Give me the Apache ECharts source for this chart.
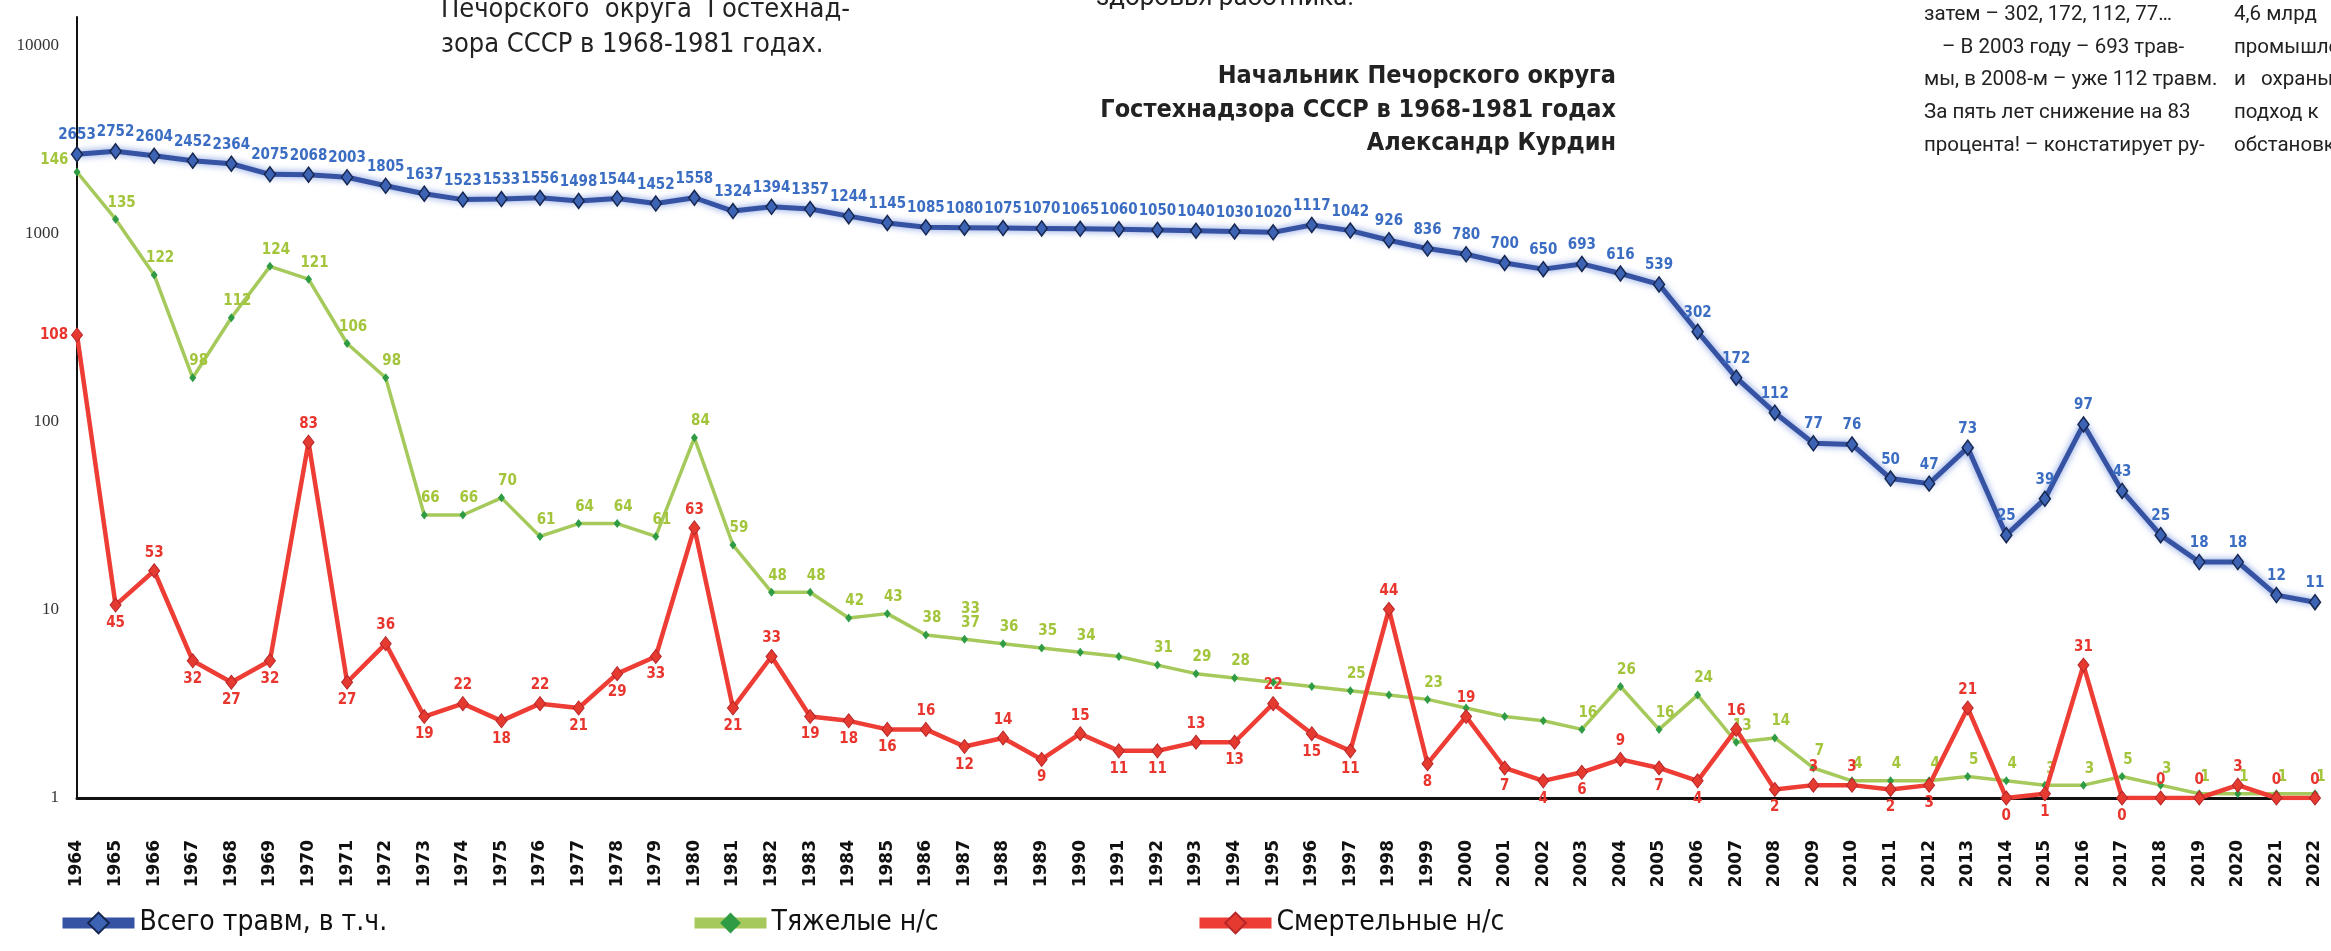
<!DOCTYPE html>
<html>
<head>
<meta charset="utf-8">
<script src="https://cdn.jsdelivr.net/npm/echarts@6/dist/echarts.min.js"></script>
<style>
  html, body { margin: 0; padding: 0; background: #fff; }
  #chart { width: 2331px; height: 951px; }
</style>
</head>
<body>
<div id="chart"></div>
<script>
// годы (ось X)
const years = ['1964','1965','1966','1967','1968','1969','1970','1971','1972','1973',
  '1974','1975','1976','1977','1978','1979','1980','1981','1982','1983',
  '1984','1985','1986','1987','1988','1989','1990','1991','1992','1993',
  '1994','1995','1996','1997','1998','1999','2000','2001','2002','2003',
  '2004','2005','2006','2007','2008','2009','2010','2011','2012','2013',
  '2014','2015','2016','2017','2018','2019','2020','2021','2022'];

// всего травм (логарифмическая ось)
const total = [2653,2752,2604,2452,2364,2075,2068,2003,1805,1637,
  1523,1533,1556,1498,1544,1452,1558,1324,1394,1357,
  1244,1145,1085,1080,1075,1070,1065,1060,1050,1040,
  1030,1020,1117,1042,926,836,780,700,650,693,
  616,539,302,172,112,77,76,50,47,73,
  25,39,97,43,25,18,18,12,11];

// тяжелые н/с (вторая, линейная ось)
const heavy = [146,135,122,98,112,124,121,106,98,66,
  66,70,61,64,64,61,84,59,48,48,
  42,43,38,37,36,35,34,33,31,29,
  28,27,26,25,24,23,21,19,18,16,
  26,16,24,13,14,7,4,4,4,5,
  4,3,3,5,3,1,1,1,1];
// подписи, как они видны на картинке ('' — подпись скрыта)
const heavyLabels = ['146','135','122','98','112','124','121','106','98','66',
  '66','70','61','64','64','61','84','59','48','48',
  '42','43','38','33\n37','36','35','34','','31','29',
  '28','','','25','','23','','','','16',
  '26','16','24','13','14','7','4','4','4','5',
  '4','3','3','5','3','1','1','1','1'];

// смертельные н/с (вторая, линейная ось)
const fatal = [108,45,53,32,27,32,83,27,36,19,
  22,18,22,21,29,33,63,21,33,19,
  18,16,16,12,14,9,15,11,11,13,
  13,22,15,11,44,8,19,7,4,6,
  9,7,4,16,2,3,3,2,3,21,
  0,1,31,0,0,0,3,0,0];

const seriesNames = ['Всего травм, в т.ч.', 'Тяжелые н/с', 'Смертельные н/с'];
const logTicks = [1, 10, 100, 1000, 10000];

// лог-ось идёт чуть выше 10000, вторая ось: ~175 ед. на 4 декады
const LOG_TOP = 4.154;
const SEC_MAX = 175.4 / 4 * LOG_TOP;

const labelFont = "'DejaVu Sans Condensed', 'DejaVu Sans', sans-serif";
const narrowFont = "'Liberation Sans Narrow', 'DejaVu Sans Condensed', sans-serif";
const bodyFont = "Roboto, sans-serif";

// подпись сверху для локальных максимумов, иначе снизу
const fatalPos = (i) => {
  if (i === 0) return 'left';
  const v = fatal[i], p = fatal[i - 1];
  if (v === 0) return p > 5 ? 'bottom' : 'top';
  const n = i < fatal.length - 1 ? fatal[i + 1] : -Infinity;
  return (v >= p && v >= n) ? 'top' : 'bottom';
};

// строка газетного текста
const txt = (x, y, text, font, align) => ({
  type: 'text', x, y,
  style: {
    text, font, fill: '#222',
    align: align || 'left', textAlign: align || 'left',
    verticalAlign: 'middle', textVerticalAlign: 'middle'
  }
});

const chart = echarts.init(document.getElementById('chart'));

const option = {
  animation: false,
  backgroundColor: '#fff',
  grid: { left: 77, right: 16, top: 17, bottom: 153 },
  xAxis: {
    type: 'category',
    data: years,
    boundaryGap: false,
    axisLine: { lineStyle: { color: '#111', width: 3 } },
    axisTick: { show: false },
    axisLabel: {
      rotate: 90,
      interval: 0,
      margin: 42,
      color: '#111',
      fontFamily: "'DejaVu Sans', sans-serif",
      fontWeight: 'bold',
      fontSize: 17
    },
    splitLine: { show: false }
  },
  yAxis: [{
    type: 'log',
    logBase: 10,
    min: 1,
    max: Math.pow(10, LOG_TOP),
    axisLine: { show: true, lineStyle: { color: '#111', width: 2 } },
    axisTick: { show: false },
    splitLine: { show: false },
    axisLabel: {
      margin: 18,
      color: '#333',
      fontFamily: "'Liberation Serif', serif",
      fontSize: 17,
      formatter: (v) => logTicks.some(t => Math.abs(t - v) / t < 1e-6) ? String(Math.round(v)) : ''
    }
  }, {
    type: 'value',
    min: 0,
    max: SEC_MAX,
    show: false
  }],
  legend: [
    { data: [seriesNames[0]], left: 52, top: 904 },
    { data: [seriesNames[1]], left: 684, top: 904 },
    { data: [seriesNames[2]], left: 1189, top: 904 }
  ].map(l => Object.assign(l, {
    itemWidth: 72,
    itemHeight: 26,
    itemGap: 10,
    lineStyle: { width: 11 },
    textStyle: { color: '#111', fontSize: 28, fontFamily: narrowFont }
  })),
  series: [
    {
      name: seriesNames[0],
      type: 'line',
      data: total,
      yAxisIndex: 0,
      z: 4,
      symbol: 'diamond',
      symbolSize: [11, 15],
      lineStyle: { color: '#3552a3', width: 5, shadowBlur: 7, shadowColor: 'rgba(70,110,210,0.75)' },
      itemStyle: { color: '#3d63b4', borderColor: '#16264e', borderWidth: 1.5 },
      label: {
        show: true, position: 'top', distance: 3,
        color: '#3b6dc3', fontFamily: labelFont, fontWeight: 'bold', fontSize: 15
      },
      emphasis: { disabled: true }
    },
    {
      name: seriesNames[1],
      type: 'line',
      data: heavy.map((v, i) => i === 0 ? { value: v, label: { position: 'left', offset: [0, -12] } } : v),
      yAxisIndex: 1,
      z: 2,
      symbol: 'diamond',
      symbolSize: [7, 9],
      lineStyle: { color: '#a6c95b', width: 3.5 },
      itemStyle: { color: '#2f9c45' },
      label: {
        show: true,
        position: 'top',
        offset: [6, 0],
        lineHeight: 14,
        color: '#a3c53c', fontFamily: labelFont, fontWeight: 'bold', fontSize: 15,
        formatter: (p) => heavyLabels[p.dataIndex]
      },
      emphasis: { disabled: true }
    },
    {
      name: seriesNames[2],
      type: 'line',
      data: fatal.map((v, i) => ({ value: v, label: { position: fatalPos(i) } })),
      yAxisIndex: 1,
      z: 3,
      symbol: 'diamond',
      symbolSize: [11, 14],
      lineStyle: { color: '#ee3d35', width: 4.5 },
      itemStyle: { color: '#e53a30', borderColor: '#b8262a', borderWidth: 1 },
      label: {
        show: true, distance: 3,
        color: '#e8352e', fontFamily: labelFont, fontWeight: 'bold', fontSize: 15
      },
      emphasis: { disabled: true }
    }
  ],
  // газетный текст вокруг графика
  graphic: [
    txt(441, 10, 'Печорского  округа  Гостехнад-', '27px ' + narrowFont),
    txt(441, 45, 'зора СССР в 1968-1981 годах.', '27px ' + narrowFont),
    txt(1096, -2, 'здоровья работника.', '26px ' + bodyFont),
    txt(1616, 76, 'Начальник Печорского округа', 'bold 25px ' + labelFont, 'right'),
    txt(1616, 110, 'Гостехнадзора СССР в 1968-1981 годах', 'bold 25px ' + labelFont, 'right'),
    txt(1616, 143, 'Александр Курдин', 'bold 25px ' + labelFont, 'right'),
    txt(1924, 15, 'затем – 302, 172, 112, 77…', '20.5px ' + bodyFont),
    txt(1942, 48, '– В 2003 году – 693 трав-', '20.5px ' + bodyFont),
    txt(1924, 80, 'мы, в 2008-м – уже 112 травм.', '20.5px ' + bodyFont),
    txt(1924, 113, 'За пять лет снижение на 83', '20.5px ' + bodyFont),
    txt(1924, 146, 'процента! – констатирует ру-', '20.5px ' + bodyFont),
    txt(2234, 15, '4,6 млрд', '20.5px ' + bodyFont),
    txt(2234, 48, 'промышленной', '20.5px ' + bodyFont),
    txt(2234, 80, 'и   охраны', '20.5px ' + bodyFont),
    txt(2234, 113, 'подход к', '20.5px ' + bodyFont),
    txt(2234, 146, 'обстановке', '20.5px ' + bodyFont)
  ]
};

chart.setOption(option);
</script>
</body>
</html>
